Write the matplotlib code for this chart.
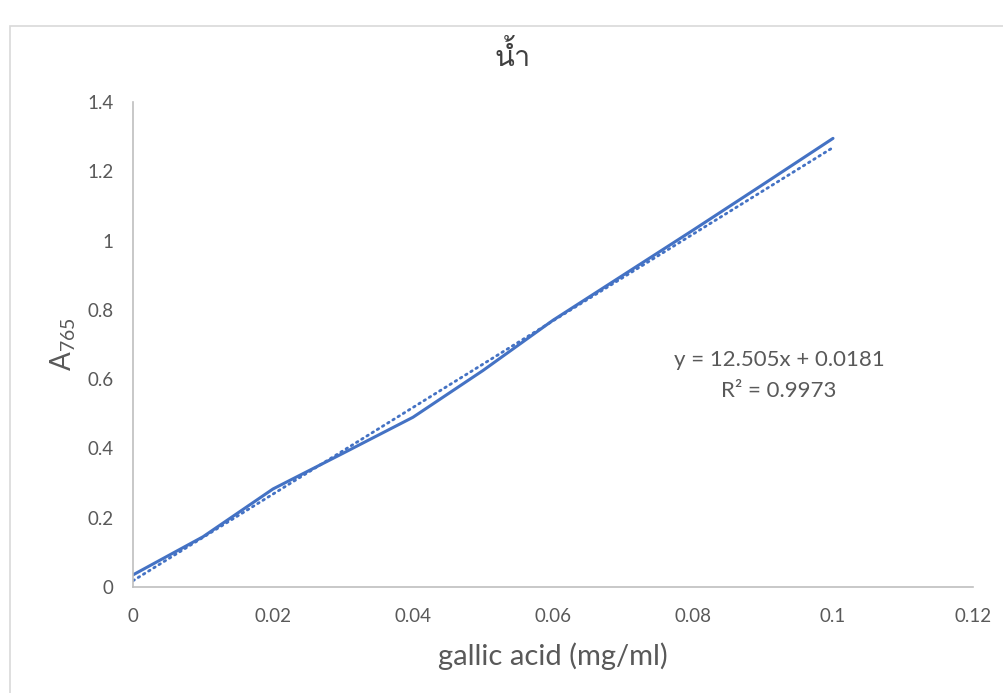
import matplotlib
matplotlib.use("Agg")
import numpy as np
import matplotlib.pyplot as plt
from matplotlib import font_manager
from matplotlib.patches import Rectangle
from fontTools.ttLib import TTFont

# calibration data: gallic acid standard, absorbance at 765 nm
conc = [0, 0.01, 0.02, 0.03, 0.04, 0.05, 0.06, 0.07, 0.08, 0.09, 0.1]
absorb = [0.035, 0.145, 0.283, 0.386, 0.49, 0.625, 0.77, 0.9, 1.03, 1.162, 1.295]

# linear trendline as reported
slope = 12.505
intercept = 0.0181
r2 = 0.9973

title = "น้ำ"
xlabel = "gallic acid (mg/ml)"
ylabel = "A$_{765}$"
xticks = [0, 0.02, 0.04, 0.06, 0.08, 0.1, 0.12]
xtick_labels = ["0", "0.02", "0.04", "0.06", "0.08", "0.1", "0.12"]
yticks = [0, 0.2, 0.4, 0.6, 0.8, 1, 1.2, 1.4]
ytick_labels = ["0", "0.2", "0.4", "0.6", "0.8", "1", "1.2", "1.4"]


def find_family(codepoint, fallback="DejaVu Sans"):
    for f in font_manager.fontManager.ttflist:
        try:
            cmap = TTFont(f.fname, fontNumber=0, lazy=True).getBestCmap()
        except Exception:
            continue
        if cmap and codepoint in cmap:
            return f.name
    return fallback


base = "Lato"
thai = find_family(0x0E19)

plt.rcParams['font.family'] = [base, 'DejaVu Sans']
plt.rcParams['mathtext.fontset'] = 'custom'
plt.rcParams['mathtext.rm'] = base

BLUE = "#4472C4"
GRAY = "#595959"

fig = plt.figure(figsize=(10.04, 6.93), dpi=100)
fig.patch.set_facecolor("white")

# chart frame
fig.patches.append(Rectangle((10 / 1004, -0.05), 1.1, 1 - 26 / 693 + 0.05,
                             transform=fig.transFigure, fill=False,
                             edgecolor="#D9D9D9", linewidth=1.2))

ax = fig.add_axes([133 / 1004, 1 - 587 / 693, 840 / 1004, 485 / 693])
ax.plot(conc, absorb, color=BLUE, linewidth=2.2, solid_capstyle="round")

xt = np.array([conc[0], conc[-1]])
ax.plot(xt, slope * xt + intercept, color=BLUE, linewidth=2, linestyle=(0, (0.6, 1.6)),
        dash_capstyle="round")

ax.set_xlim(0, 0.12)
ax.set_ylim(0, 1.4)
ax.set_xticks(xticks)
ax.set_xticklabels(xtick_labels)
ax.set_yticks(yticks)
ax.set_yticklabels(ytick_labels)
ax.tick_params(length=0, labelsize=13.5, labelcolor=GRAY)
ax.tick_params(axis="x", pad=15)
ax.tick_params(axis="y", pad=14)

for side in ["top", "right"]:
    ax.spines[side].set_visible(False)
for side in ["left", "bottom"]:
    ax.spines[side].set_color("#BFBFBF")
    ax.spines[side].set_linewidth(1.2)

ax.set_xlabel(xlabel, fontsize=21, color=GRAY, labelpad=13)
ax.set_ylabel(ylabel, fontsize=20, color=GRAY, labelpad=7)
fig.text(513 / 1004, 1 - 56 / 693, title, ha="center", va="center", fontsize=21,
         color="#404040", family=[thai, 'DejaVu Sans'])

ax.text(0.0923, 0.655, f"y = {slope}x + {intercept}", ha="center", va="center",
        fontsize=16, color=GRAY)
ax.text(0.0923, 0.565, f"R² = {r2}", ha="center", va="center",
        fontsize=16, color=GRAY)

fig.savefig("out.png", dpi=100, facecolor="white")
